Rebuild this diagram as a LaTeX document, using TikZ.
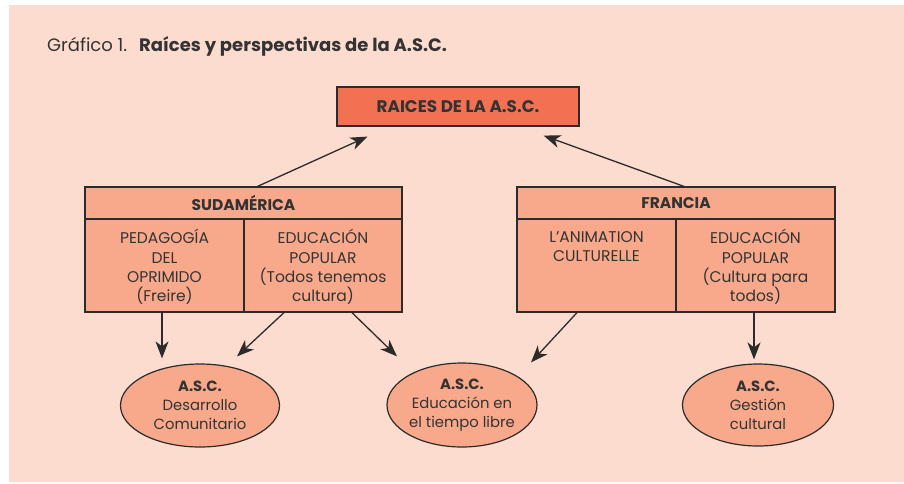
\documentclass[tikz,border=0pt]{standalone}
\usepackage{fontspec}
\setmainfont{Poppins}
\usetikzlibrary{arrows.meta,shapes.geometric,calc}

\definecolor{pagebg}{HTML}{FCDCCE}
\definecolor{rootfill}{HTML}{F17152}
\definecolor{cellfill}{HTML}{F8A98C}
\definecolor{ink}{HTML}{2B2B2B}
\definecolor{txt}{HTML}{333333}

\tikzset{
  boxline/.style={draw=ink, line width=1.2pt},
  rootbox/.style={boxline, fill=rootfill, minimum width=242pt, minimum height=39pt, inner sep=0pt,
    font=\fontsize{16.8}{19}\selectfont\bfseries, text=txt},
  headbox/.style={boxline, fill=cellfill, minimum width=318pt, minimum height=32pt, inner sep=0pt,
    font=\fontsize{15.5}{18}\selectfont\bfseries, text=txt},
  cellbox/.style={boxline, fill=cellfill, minimum width=159pt, minimum height=93pt, inner sep=0pt},
  celltext/.style={anchor=north, inner sep=0pt, align=center, text=txt,
    font=\fontsize{15.5}{19.2}\selectfont},
  outcome/.style={ellipse, boxline, fill=cellfill, inner sep=0pt, align=center, text=txt,
    font=\fontsize{14.8}{19}\selectfont},
  link/.style={draw=ink, line width=1.3pt, -{Stealth[length=17pt,width=13pt,inset=5pt]}},
}

\begin{document}
\begin{tikzpicture}[x=1pt,y=-1pt]
  \useasboundingbox (0,0) rectangle (904,483);
  \fill[pagebg] (9,5) rectangle (904,482);

  % caption
  \node[anchor=west, inner sep=0pt, text=txt, font=\fontsize{18}{21}\selectfont] (title) at (47,46)
    {Gráfico 1.\hspace{12pt}\textbf{Raíces y perspectivas de la A.S.C.}};

  % root
  \node[rootbox] (raices) at (458,106.5) {RAICES DE LA A.S.C.};

  % South American branch
  \node[headbox, minimum width=317pt] (sudH) at (243.5,203) {SUDAMÉRICA};
  \node[cellbox] (sudL) at (164.5,265.5) {};
  \node[cellbox, minimum width=158pt] (sudR) at (323,265.5) {};
  \node[celltext] (sudLt) at ($(sudL.north)+(0,11)$) {PEDAGOGÍA\\DEL\\OPRIMIDO\\(Freire)};
  \node[celltext] (sudRt) at ($(sudR.north)+(0,11)$) {EDUCACIÓN\\POPULAR\\(Todos tenemos\\cultura)};

  % French branch
  \node[headbox] (fraH) at (676,203) {FRANCIA};
  \node[cellbox] (fraL) at (596.5,265.5) {};
  \node[cellbox] (fraR) at (755.5,265.5) {};
  \node[celltext] (fraLt) at ($(fraL.north)+(0,12.5)$) {L’ANIMATION\\CULTURELLE};
  \node[celltext] (fraRt) at ($(fraR.north)+(0,11)$) {EDUCACIÓN\\POPULAR\\(Cultura para\\todos)};

  % outcomes
  \node[outcome, minimum width=159pt, minimum height=83pt] (ellL) at (200,405.5)
    {\textbf{A.S.C.}\\Desarrollo\\Comunitario};
  \node[outcome, minimum width=150pt, minimum height=84pt] (ellM) at (462,405)
    {\textbf{A.S.C.}\\Educación en\\el tiempo libre};
  \node[outcome, minimum width=151pt, minimum height=82pt] (ellR) at (758,405)
    {\textbf{A.S.C.}\\Gestión\\cultural};

  % connectors to the root
  \draw[link] ($(sudH.north)+(14,0)$) -- ($(raices.south west)+(31,10)$);
  \draw[link] ($(fraH.north)+(8,0)$) -- ($(raices.south east)+(-36,9)$);

  % connectors to the outcomes
  \draw[link] ($(sudL.south)+(-2.5,0)$) -- ($(ellL.north)+(-38,-5)$);
  \draw[link] ($(sudR.south)+(-39,0)$) -- ($(ellL.north)+(37,-7)$);
  \draw[link] ($(sudR.south)+(29,0)$) -- ($(ellM.north)+(-65,-6)$);
  \draw[link] ($(fraL.south)+(-19.5,0)$) -- ($(ellM.north)+(69,0)$);
  \draw[link] ($(fraR.south)+(-1.5,0)$) -- ($(ellR.north)+(-4,-4)$);
\end{tikzpicture}
\end{document}
